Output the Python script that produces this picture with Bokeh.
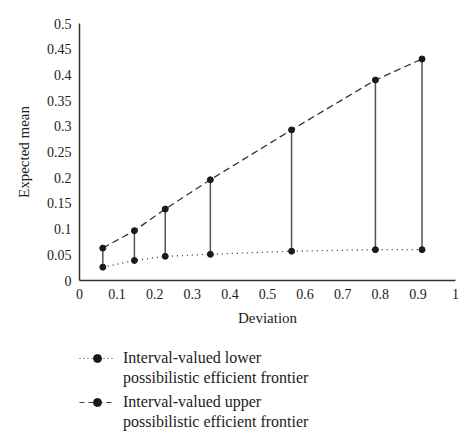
from bokeh.plotting import figure
from bokeh.models import Range1d, FixedTicker, Legend, LegendItem
from bokeh.layouts import column
from bokeh.embed import file_html
from bokeh.resources import INLINE

# data
deviation = [0.062, 0.146, 0.228, 0.348, 0.564, 0.787, 0.911]
upper_mean = [0.063, 0.097, 0.139, 0.196, 0.293, 0.390, 0.431]
lower_mean = [0.026, 0.039, 0.047, 0.051, 0.057, 0.060, 0.060]

x_ticks = [0, 0.1, 0.2, 0.3, 0.4, 0.5, 0.6, 0.7, 0.8, 0.9, 1]
x_tick_labels = ["0", "0.1", "0.2", "0.3", "0.4", "0.5", "0.6", "0.7", "0.8", "0.9", "1"]
y_ticks = [0, 0.05, 0.1, 0.15, 0.2, 0.25, 0.3, 0.35, 0.4, 0.45, 0.5]
y_tick_labels = ["0", "0.05", "0.1", "0.15", "0.2", "0.25", "0.3", "0.35", "0.4", "0.45", "0.5"]

lower_label = ["Interval-valued lower", "possibilistic efficient frontier"]
upper_label = ["Interval-valued upper", "possibilistic efficient frontier"]

FONT = "Liberation Serif"
INK = "#1a1a1a"
TXT = "#222222"

p = figure(frame_width=376, frame_height=257, output_backend="svg", toolbar_location=None,
           x_range=Range1d(0, 1), y_range=Range1d(0, 0.5),
           min_border_left=79, min_border_right=11, min_border_top=23, min_border_bottom=50)
p.outline_line_color = None
p.xgrid.visible = False
p.ygrid.visible = False

# vertical connectors between the two frontiers
p.segment(deviation, lower_mean, deviation, upper_mean, line_color="#555555", line_width=1.5)

p.line(deviation, upper_mean, line_color="#333333", line_width=1.3, line_dash="7 4")
p.scatter(deviation, upper_mean, size=6, color=INK)
p.line(deviation, lower_mean, line_color="#333333", line_width=1.3, line_dash="1 4")
p.scatter(deviation, lower_mean, size=6, color=INK)

for ax in (p.xaxis[0], p.yaxis[0]):
    ax.axis_line_color = "#333333"
    ax.axis_line_width = 1.5
    ax.major_tick_line_color = None
    ax.minor_tick_line_color = None
    ax.major_tick_out = 0
    ax.major_label_text_font = FONT
    ax.major_label_text_font_size = "14px"
    ax.major_label_text_color = TXT
    ax.axis_label_text_font = FONT
    ax.axis_label_text_font_size = "15px"
    ax.axis_label_text_font_style = "normal"
    ax.axis_label_text_color = TXT

p.xaxis.ticker = FixedTicker(ticks=x_ticks)
p.xaxis.major_label_overrides = dict(zip(x_ticks, x_tick_labels))
p.yaxis.ticker = FixedTicker(ticks=y_ticks)
p.yaxis.major_label_overrides = dict(zip(y_ticks, y_tick_labels))
p.xaxis.axis_label = "Deviation"
p.yaxis.axis_label = "Expected mean"
p.xaxis.major_label_standoff = 8
p.yaxis.major_label_standoff = 8
p.xaxis.axis_label_standoff = 8
p.yaxis.axis_label_standoff = 12

# legend strip under the chart; its renderers hold the real data but sit outside the view
lg = figure(width=466, frame_height=84, output_backend="svg", toolbar_location=None,
            x_range=Range1d(0, 1), y_range=Range1d(1, 2),
            min_border_left=75, min_border_right=0, min_border_top=18, min_border_bottom=15,
            x_axis_location=None, y_axis_location=None)
lg.grid.visible = False
lg.outline_line_color = None
lo_line = lg.line(deviation, lower_mean, line_color="#444444", line_width=1.2, line_dash="1 3")
lo_dot = lg.scatter(deviation, lower_mean, size=5, color=INK)
up_line = lg.line(deviation, upper_mean, line_color="#444444", line_width=1.2, line_dash="5 4")
up_dot = lg.scatter(deviation, upper_mean, size=5, color=INK)
blank = lg.scatter(deviation, lower_mean, size=1, alpha=0)


def make_legend(labels, renderers, loc):
    leg = Legend(items=[
        LegendItem(label=labels[0], renderers=renderers),
        LegendItem(label=labels[1], renderers=[blank]),
    ], location=loc)
    leg.border_line_color = None
    leg.background_fill_alpha = 0
    leg.label_text_font = FONT
    leg.label_text_font_size = "16px"
    leg.label_text_color = TXT
    leg.glyph_width = 36
    leg.glyph_height = 20
    leg.label_height = 20
    leg.spacing = 0
    leg.margin = 0
    leg.padding = 0
    leg.label_standoff = 8
    return leg


lg.add_layout(make_legend(lower_label, [lo_line, lo_dot], "top_left"))
lg.add_layout(make_legend(upper_label, [up_line, up_dot], "bottom_left"))

open("out.html", "w").write(file_html(column(p, lg, spacing=0), INLINE))
